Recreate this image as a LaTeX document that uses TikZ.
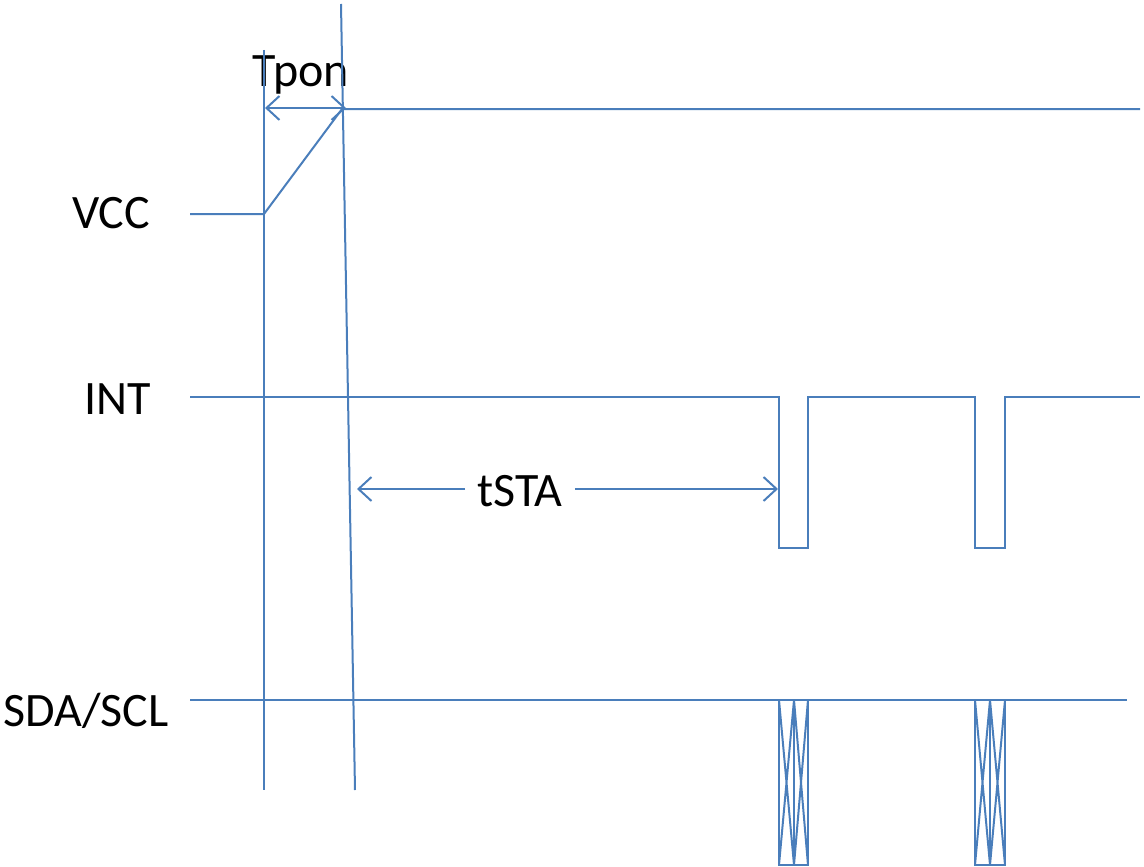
\documentclass[tikz,border=0pt]{standalone}
\usepackage{fontspec}
\setmainfont{Carlito}
\usetikzlibrary{arrows.meta}
\definecolor{wave}{RGB}{74,126,187}
\begin{document}
\begin{tikzpicture}[x=1pt,y=-1pt,
  wire/.style={draw=wave,line width=2pt},
  barb/.tip={Straight Barb[length=13pt,width=24pt,line width=2pt]},
  arr/.style={wire,-barb},
  dblarr/.style={wire,barb-barb},
  lab/.style={font=\fontsize{48}{56}\selectfont,inner sep=0pt,anchor=base}]
\useasboundingbox (0,0) rectangle (1144,867);
% labels
\node[lab] (vcc) at (111,228) {VCC};
\node[lab] (int) at (118,414) {INT};
\node[lab] (sda) at (86,726) {SDA/SCL};
\node[lab] (tpon) at (301,87) {Tpon};
\node[lab,inner xsep=12pt] (tsta) at (520,506) {tSTA};
% reference verticals
\coordinate (l1) at (264,50);
\coordinate (l2) at (264,790);
\coordinate (s1) at (341,4);
\coordinate (s2) at (355,790);
\draw[wire] (l1) -- (l2);
\draw[wire] (s1) -- (s2);
% VCC
\coordinate (v0) at (190,214);
\coordinate (v1) at (264,214);
\coordinate (v2) at (342,109);
\coordinate (v3) at (1140,109);
\draw[wire] (v0) -- (v1) -- (v2) -- (v3);
% Tpon arrow
\coordinate (ta) at (265,108);
\coordinate (tb) at (346,108);
\draw[dblarr] (ta) -- (tb);
% INT
\draw[wire] (190,397) coordinate (i0) -- (779,397) -- (779,548) -- (808,548) -- (808,397)
  -- (975,397) -- (975,548) -- (1005,548) -- (1005,397) -- (1140,397) coordinate (i1);
% tSTA arrows
\coordinate (ts1) at (357,489);
\coordinate (ts2) at (778,489);
\draw[arr] (tsta.west |- ts1) -- (ts1);
\draw[arr] (tsta.east |- ts2) -- (ts2);
% SDA/SCL
\coordinate (d0) at (190,700);
\coordinate (d1) at (1127,700);
\draw[wire] (d0) -- (d1);
\foreach \a/\m/\b in {779/794/808, 975/990/1005}{
  \draw[wire] (\a,700) rectangle (\b,865);
  \draw[wire] (\m,700) -- (\m,865);
  \draw[wire] (\a,700) -- (\m,865) (\m,700) -- (\a,865);
  \draw[wire] (\m,700) -- (\b,865) (\b,700) -- (\m,865);
}
\end{tikzpicture}
\end{document}
